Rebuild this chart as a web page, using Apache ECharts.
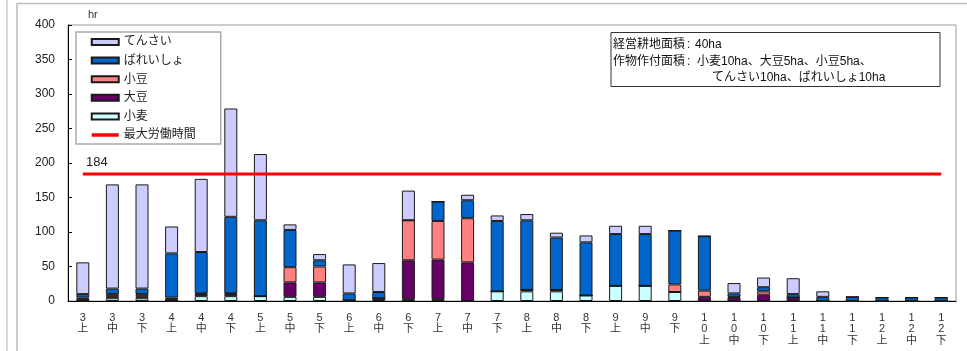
<!DOCTYPE html>
<html>
<head>
<meta charset="utf-8">
<script src="https://cdn.jsdelivr.net/npm/echarts@6/dist/echarts.min.js"></script>
<style>
  html, body { margin: 0; padding: 0; background: #fff; }
  #chart { width: 967px; height: 351px; }
</style>
</head>
<body>
<div id="chart"></div>
<script>
// 旬別労働時間（hr）
const categories = ['3上','3中','3下','4上','4中','4下','5上','5中','5下','6上','6中','6下',
  '7上','7中','7下','8上','8中','8下','9上','9中','9下','10上','10中','10下',
  '11上','11中','11下','12上','12中','12下'];

const wheat    = [0,4,4,0,7,7,7,6,6,0,3,3,3,0,14,14,14,8,22,22,13,0,0,0,0,0,0,0,0,0];
const soybean  = [3,3,3,3,3,3,0,21,21,1,1,56,57,56,0,2,2,0,0,0,0,6,5,9,5,0,0,0,0,0];
const adzuki   = [2,3,3,2,1,1,0,22,23,0,0,58,56,64,0,0,0,0,0,0,11,9,1,5,0,0,0,0,0,0];
const potato   = [5,8,8,64,60,111,110,54,9,10,9,0,28,26,102,101,76,77,75,75,78,79,5,6,5,6,6,5,5,5];
const sugarbeet= [46,151,151,39,106,157,96,8,9,42,42,43,0,8,8,9,7,10,12,12,0,0,15,14,23,8,0,0,0,0];

const maxHours = 184;
const yTicks = { min: 0, max: 400, interval: 50 };

const FONT = '"Liberation Sans", "Noto Sans CJK JP", sans-serif';

const chart = echarts.init(document.getElementById('chart'), null, { renderer: 'canvas' });

function barSeries(name, data, color) {
  return {
    name, type: 'bar', stack: 'total', data,
    barWidth: 13,
    itemStyle: { color, borderColor: '#1a1a1a', borderWidth: 1 },
    emphasis: { disabled: true }
  };
}

chart.setOption({
  animation: false,
  textStyle: { fontFamily: FONT },
  grid: { left: 68, top: 25, right: 11, bottom: 50, show: true, borderColor: '#999', borderWidth: 1 },
  legend: {
    orient: 'vertical', left: 76, top: 32,
    padding: [3, 25, 2, 14],
    itemWidth: 27, itemHeight: 6, itemGap: 4.6,
    backgroundColor: '#fff', borderColor: '#aaa', borderWidth: 1.5,
    textStyle: { fontSize: 12, color: '#222', lineHeight: 14, fontFamily: FONT },
    data: [
      { name: 'てんさい', icon: 'rect' },
      { name: 'ばれいしょ', icon: 'rect' },
      { name: '小豆', icon: 'rect' },
      { name: '大豆', icon: 'rect' },
      { name: '小麦', icon: 'rect' },
      { name: '最大労働時間', itemStyle: { opacity: 0 },
        lineStyle: { width: 3.5, color: '#ff0000', opacity: 1 } }],
    selectedMode: false
  },
  xAxis: {
    type: 'category', data: categories,
    axisLine: { lineStyle: { color: '#000', width: 1 } },
    axisTick: { inside: true, length: 3, lineStyle: { color: '#000' } },
    axisLabel: {
      interval: 0, margin: 11, fontSize: 11, lineHeight: 11.5, color: '#333',
      fontFamily: FONT,
      formatter: v => v.split('').join('\n')
    }
  },
  yAxis: {
    type: 'value', min: yTicks.min, max: yTicks.max, interval: yTicks.interval,
    name: 'hr', nameGap: 5,
    nameTextStyle: { fontSize: 11, color: '#333', align: 'left', padding: [0, 0, 0, 20] },
    axisLine: { show: true, lineStyle: { color: '#000', width: 1 } },
    axisTick: { show: true, inside: true, length: 4, lineStyle: { color: '#000' } },
    axisLabel: { margin: 13, fontSize: 12, color: '#222', fontFamily: FONT },
    splitLine: { show: false }
  },
  series: [
    barSeries('小麦', wheat, '#ccffff'),
    barSeries('大豆', soybean, '#660066'),
    barSeries('小豆', adzuki, '#ff8080'),
    barSeries('ばれいしょ', potato, '#0066cc'),
    barSeries('てんさい', sugarbeet, '#ccccff'),
    {
      name: '最大労働時間', type: 'line', data: categories.map(() => maxHours),
      symbol: 'none', z: 5,
      lineStyle: { color: '#ff0000', width: 3 }, itemStyle: { color: '#ff0000' },
      emphasis: { disabled: true },
      markPoint: {
        symbol: 'rect', symbolSize: 1, silent: true,
        itemStyle: { color: 'rgba(0,0,0,0)' },
        label: { show: true, position: 'top', offset: [14, 0], fontSize: 13, color: '#222',
          fontFamily: FONT, formatter: String(maxHours) },
        data: [{ coord: [categories[0], maxHours], value: maxHours }]
      }
    }
  ],
  graphic: [
    // outer frame
    { type: 'line', shape: { x1: 17, y1: 3.5, x2: 967, y2: 3.5 }, style: { stroke: '#bbb', lineWidth: 1.5 }, silent: true },
    { type: 'line', shape: { x1: 17, y1: 3, x2: 17, y2: 351 }, style: { stroke: '#bbb', lineWidth: 1.5 }, silent: true },
    { type: 'line', shape: { x1: 7, y1: 0, x2: 7, y2: 351 }, style: { stroke: '#ccc', lineWidth: 1.5 }, silent: true },
    // area note
    { type: 'rect', shape: { x: 611, y: 32.5, width: 329, height: 54 },
      style: { fill: '#fff', stroke: '#333', lineWidth: 1 }, z: 10, silent: true },
    { type: 'text', x: 613, y: 45, z: 11, silent: true,
      style: { text: '経営耕地面積', font: '12px ' + FONT, fill: '#111', verticalAlign: 'middle' } },
    { type: 'text', x: 687, y: 45, z: 11, silent: true,
      style: { text: ':', font: '12px ' + FONT, fill: '#111', verticalAlign: 'middle' } },
    { type: 'text', x: 695, y: 45, z: 11, silent: true,
      style: { text: '40ha', font: '12px ' + FONT, fill: '#111', verticalAlign: 'middle' } },
    { type: 'text', x: 613, y: 61.5, z: 11, silent: true,
      style: { text: '作物作付面積', font: '12px ' + FONT, fill: '#111', verticalAlign: 'middle' } },
    { type: 'text', x: 687, y: 61.5, z: 11, silent: true,
      style: { text: ':', font: '12px ' + FONT, fill: '#111', verticalAlign: 'middle' } },
    { type: 'text', x: 697, y: 61.5, z: 11, silent: true,
      style: { text: '小麦10ha、大豆5ha、小豆5ha、', font: '12px ' + FONT, fill: '#111', verticalAlign: 'middle' } },
    { type: 'text', x: 712, y: 78, z: 11, silent: true,
      style: { text: 'てんさい10ha、ばれいしょ10ha', font: '12px ' + FONT, fill: '#111', verticalAlign: 'middle' } }
  ]
});
</script>
</body>
</html>
